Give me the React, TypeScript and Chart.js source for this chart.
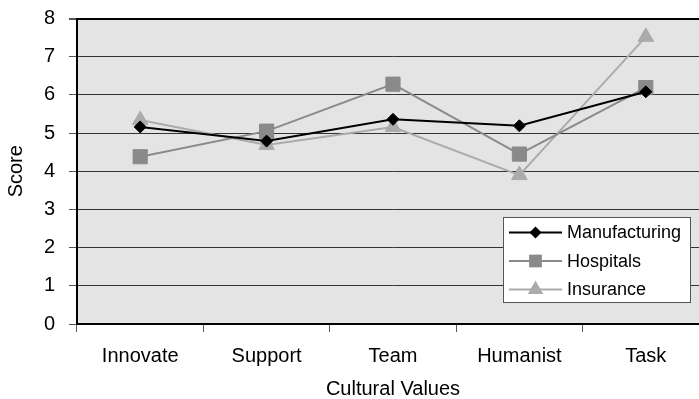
import React, { useEffect, useRef } from "react";
import { Chart, registerables } from "chart.js";

Chart.register(...registerables);

const categories = ["Innovate", "Support", "Team", "Humanist", "Task"];
const manufacturing = [5.16, 4.79, 5.36, 5.19, 6.08];
const hospitals = [4.38, 5.05, 6.28, 4.45, 6.19];
const insurance = [5.34, 4.69, 5.16, 3.9, 7.52];
const seriesNames = ["Manufacturing", "Hospitals", "Insurance"];
const yTicks = [0, 1, 2, 3, 4, 5, 6, 7, 8];

const FONT = "'Liberation Sans', Arial, sans-serif";

const plotBg = {
  id: "plotBg",
  beforeDraw(chart: any) {
    const { ctx, chartArea } = chart;
    ctx.save();
    ctx.fillStyle = "#e4e4e4";
    ctx.fillRect(chartArea.left, chartArea.top, chartArea.right - chartArea.left, chartArea.bottom - chartArea.top);
    ctx.restore();
  },
};

function drawMarker(ctx: CanvasRenderingContext2D, style: string, x: number, y: number, r: number) {
  ctx.beginPath();
  if (style === "rectRot") {
    ctx.moveTo(x, y - r);
    ctx.lineTo(x + r, y);
    ctx.lineTo(x, y + r);
    ctx.lineTo(x - r, y);
  } else if (style === "rect") {
    const s = r * Math.SQRT1_2;
    ctx.rect(x - s, y - s, 2 * s, 2 * s);
  } else {
    ctx.moveTo(x, y - r);
    ctx.lineTo(x + r * 0.866, y + r * 0.5);
    ctx.lineTo(x - r * 0.866, y + r * 0.5);
  }
  ctx.closePath();
  ctx.fill();
}

const customLegend = {
  id: "customLegend",
  afterDraw(chart: any) {
    const { ctx } = chart;
    const x0 = 503.5, y0 = 217.5, w = 187, h = 85;
    ctx.save();
    ctx.fillStyle = "#ffffff";
    ctx.fillRect(x0, y0, w, h);
    ctx.strokeStyle = "#555555";
    ctx.lineWidth = 1;
    ctx.strokeRect(x0, y0, w, h);
    const rows = [232.5, 261, 289.5];
    chart.data.datasets.forEach((ds: any, i: number) => {
      const y = rows[i];
      ctx.strokeStyle = ds.borderColor;
      ctx.lineWidth = ds.borderWidth;
      ctx.beginPath();
      ctx.moveTo(509, y);
      ctx.lineTo(562, y);
      ctx.stroke();
      const r = ds.pointStyle === "rectRot" ? 6 : 9;
      ctx.fillStyle = ds.pointBackgroundColor;
      drawMarker(ctx, ds.pointStyle, 535.5, y, r);
      ctx.fillStyle = "#000";
      ctx.font = "18px " + FONT;
      ctx.textBaseline = "middle";
      ctx.textAlign = "left";
      ctx.fillText(ds.label, 567, y + 1);
    });
    ctx.restore();
  },
};

export default function App() {
  const ref = useRef<HTMLCanvasElement>(null);
  useEffect(() => {
    if (!ref.current) return;
    const chart = new Chart(ref.current, {
      type: "line",
      data: {
        labels: categories,
        datasets: [
          {
            label: seriesNames[0],
            data: manufacturing,
            borderColor: "#000000",
            backgroundColor: "#000000",
            pointBackgroundColor: "#000000",
            pointBorderColor: "#000000",
            borderWidth: 2,
            pointStyle: "rectRot",
            pointRadius: 6,
            pointBorderWidth: 1,
            tension: 0,
          },
          {
            label: seriesNames[1],
            data: hospitals,
            borderColor: "#8a8a8a",
            backgroundColor: "#8a8a8a",
            pointBackgroundColor: "#8a8a8a",
            pointBorderColor: "#8a8a8a",
            borderWidth: 2,
            pointStyle: "rect",
            pointRadius: 10,
            pointBorderWidth: 1,
            tension: 0,
          },
          {
            label: seriesNames[2],
            data: insurance,
            borderColor: "#ababab",
            backgroundColor: "#ababab",
            pointBackgroundColor: "#ababab",
            pointBorderColor: "#ababab",
            borderWidth: 2,
            pointStyle: "triangle",
            pointRadius: 9,
            pointBorderWidth: 1,
            tension: 0,
          },
        ],
      },
      options: {
        responsive: false,
        animation: false,
        devicePixelRatio: 1,
        layout: { autoPadding: false, padding: { top: 18.5, right: 1, left: 0, bottom: 0 } },
        plugins: {
          legend: { display: false },
          tooltip: { enabled: false },
        },
        scales: {
          x: {
            offset: true,
            grid: {
              offset: true,
              drawOnChartArea: false,
              drawTicks: true,
              tickLength: 8,
              color: "#555",
            },
            border: { color: "#000", width: 2 },
            ticks: {
              color: "#000",
              font: { family: FONT, size: 20 },
              padding: 12,
              maxRotation: 0,
            },
            title: {
              display: true,
              text: "Cultural Values",
              color: "#000",
              font: { family: FONT, size: 20, lineHeight: 1 },
              padding: { top: 0, bottom: 0 },
            },
            afterFit(scale: any) {
              scale.height = 75;
              scale.paddingLeft = 0;
              scale.paddingRight = 0;
            },
          },
          y: {
            min: 0,
            max: 8,
            afterBuildTicks(scale: any) {
              scale.ticks = yTicks.map((v) => ({ value: v }));
            },
            grid: {
              color: (c: any) => (c.tick && c.tick.value === 8 ? "#000" : "#333"),
              lineWidth: (c: any) => (c.tick && c.tick.value === 8 ? 2 : 1),
              tickLength: 8,
              tickColor: "#555",
            },
            border: { color: "#000", width: 2 },
            ticks: {
              color: "#000",
              font: { family: FONT, size: 20 },
              padding: 14,
            },
            title: {
              display: true,
              text: "Score",
              color: "#000",
              font: { family: FONT, size: 20 },
              padding: { top: 4, bottom: 0 },
            },
            afterFit(scale: any) {
              scale.width = 77;
              scale.paddingTop = 0;
              scale.paddingBottom = 0;
            },
          },
        },
      },
      plugins: [plotBg, customLegend],
    });
    return () => chart.destroy();
  }, []);
  return (
    <div style={{ position: "fixed", left: 0, top: 0, width: 699, height: 399, overflow: "hidden", background: "#fff" }}>
      <canvas ref={ref} width={710} height={399} style={{ display: "block", width: 710, height: 399 }} />
    </div>
  );
}
